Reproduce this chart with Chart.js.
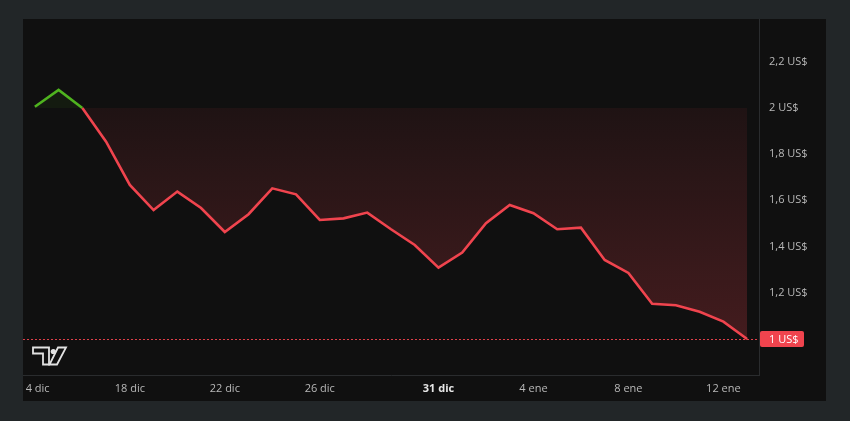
<!DOCTYPE html>
<html>
<head>
<meta charset="utf-8">
<script src="https://cdn.jsdelivr.net/npm/chart.js@4.4.1/dist/chart.umd.min.js"></script>
<style>
html, body { margin: 0; padding: 0; background: #222628; }
#panel { position: absolute; left: 23px; top: 19px; width: 803px; height: 382px; background: #101010; }
</style>
</head>
<body>
<div id="panel"><canvas id="grafico"></canvas></div>
<script>
// DATOS
const fechas = ['14 dic', '15 dic', '16 dic', '17 dic', '18 dic', '19 dic', '20 dic', '21 dic', '22 dic', '23 dic',
    '24 dic', '25 dic', '26 dic', '27 dic', '28 dic', '29 dic', '30 dic', '31 dic', '1 ene', '2 ene',
    '3 ene', '4 ene', '5 ene', '6 ene', '7 ene', '8 ene', '9 ene', '10 ene', '11 ene', '12 ene', '13 ene']
const precios = [2.005, 2.078, 2.0, 1.854, 1.667, 1.558, 1.638, 1.567, 1.463, 1.540,
    1.652, 1.626, 1.515, 1.522, 1.547, 1.475, 1.407, 1.309, 1.374, 1.501,
    1.580, 1.544, 1.475, 1.482, 1.342, 1.286, 1.152, 1.146, 1.118, 1.075, 1.0]
const indicesX = [0, 4, 8, 12, 17, 21, 25, 29]
const textosX = ['\u20024 dic', '18 dic', '22 dic', '26 dic', '31 dic', '4 ene', '8 ene', '12 ene']
const marcasY = [1.2, 1.4, 1.6, 1.8, 2.0, 2.2]
const precioBase = 2.0

const rojo = '#f0444e'
const verde = '#4fb31f'
const fuente = "'Open Sans', 'Noto Sans', sans-serif"

function formatoPrecio(v) {
    let t = v.toFixed(1).replace('.', ',')
    if (t.endsWith(',0')) t = t.slice(0, -2)
    return t + ' US$'
}

// sin relleno automático alrededor de los ejes
function sinPadding(s) {
    s.paddingTop = 0
    s.paddingBottom = 0
    s.paddingLeft = 0
    s.paddingRight = 0
}

// LÍNEA DEL ÚLTIMO PRECIO + LOGO
const extras = {
    id: 'extras',
    afterDraw(chart) {
        const ctx = chart.ctx
        const area = chart.chartArea
        const y = Math.round(chart.scales.y.getPixelForValue(precios[precios.length - 1])) + 0.5

        ctx.save()
        ctx.strokeStyle = '#e0404a'
        ctx.lineWidth = 1
        ctx.setLineDash([2, 2])
        ctx.beginPath()
        ctx.moveTo(area.left, y)
        ctx.lineTo(area.right, y)
        ctx.stroke()
        ctx.setLineDash([])

        // etiqueta
        ctx.fillStyle = rojo
        ctx.beginPath()
        ctx.roundRect(area.right + 1, y - 8.5, 44, 16, 2)
        ctx.fill()
        ctx.fillStyle = '#ffffff'
        ctx.font = '11px ' + fuente
        ctx.textBaseline = 'middle'
        ctx.textAlign = 'left'
        ctx.fillText(formatoPrecio(precios[precios.length - 1]), area.right + 10, y)

        // logo
        const ox = 10, oy = 328.5
        ctx.strokeStyle = '#e2e2e2'
        ctx.fillStyle = '#101010'
        ctx.lineWidth = 1.8
        ctx.lineJoin = 'miter'
        ctx.beginPath()
        ctx.moveTo(ox, oy)
        ctx.lineTo(ox + 16, oy)
        ctx.lineTo(ox + 16, oy + 17)
        ctx.lineTo(ox + 10, oy + 17)
        ctx.lineTo(ox + 10, oy + 6)
        ctx.lineTo(ox, oy + 6)
        ctx.closePath()
        ctx.fill()
        ctx.stroke()
        ctx.beginPath()
        ctx.moveTo(ox + 25, oy)
        ctx.lineTo(ox + 33, oy)
        ctx.lineTo(ox + 24, oy + 17)
        ctx.lineTo(ox + 16.5, oy + 17)
        ctx.closePath()
        ctx.fill()
        ctx.stroke()
        ctx.fillStyle = '#e2e2e2'
        ctx.beginPath()
        ctx.arc(ox + 20.3, oy + 4, 2.6, 0, Math.PI * 2)
        ctx.fill()
        ctx.restore()
    }
}

const configuracion = {
    type: 'line',
    data: {
        labels: fechas,
        datasets: [{
            data: precios,
            borderColor: rojo,
            borderWidth: 2.6,
            pointRadius: 0,
            tension: 0,
            segment: {
                borderColor: c => (c.p0.parsed.y >= precioBase && c.p1.parsed.y >= precioBase) ? verde : undefined
            },
            backgroundColor: c => {
                const area = c.chart.chartArea
                if (!area) return 'rgba(240, 68, 78, 0.12)'
                const ys = c.chart.scales.y
                const g = c.chart.ctx.createLinearGradient(0, ys.getPixelForValue(precioBase), 0, ys.getPixelForValue(1.0))
                g.addColorStop(0, 'rgba(240, 68, 78, 0.07)')
                g.addColorStop(1, 'rgba(240, 68, 78, 0.23)')
                return g
            },
            fill: { value: precioBase, above: 'rgba(79, 179, 31, 0.07)' }
        }]
    },
    options: {
        responsive: true,
        maintainAspectRatio: false,
        animation: false,
        layout: { padding: 0, autoPadding: false },
        plugins: {
            legend: { display: false },
            tooltip: { enabled: false }
        },
        scales: {
            x: {
                type: 'category',
                offset: true,
                grid: { display: true, color: 'transparent', drawTicks: false },
                border: { display: true, color: '#2a2c2e', width: 1 },
                afterFit: s => { s.height = 26; sinPadding(s) },
                ticks: {
                    autoSkip: false,
                    maxRotation: 0,
                    padding: 7,
                    callback: (v, i) => {
                        const k = indicesX.indexOf(i)
                        return k >= 0 ? textosX[k] : ''
                    },
                    color: c => c.index === 17 ? '#e6e6e6' : '#b8b8b8',
                    font: c => ({ family: fuente, size: 11, weight: c.index === 17 ? 'bold' : 'normal' })
                }
            },
            y: {
                type: 'linear',
                position: 'right',
                min: 0.844,
                max: 2.385,
                grid: { display: true, color: 'transparent', drawTicks: false },
                border: { display: true, color: '#2a2c2e', width: 1 },
                afterFit: s => { s.width = 67; sinPadding(s) },
                afterBuildTicks: s => { s.ticks = marcasY.map(v => ({ value: v })) },
                ticks: {
                    padding: 10,
                    color: '#b8b8b8',
                    font: { family: fuente, size: 11 },
                    callback: v => formatoPrecio(v)
                }
            }
        }
    },
    plugins: [extras]
}

const grafico = new Chart(document.getElementById('grafico').getContext('2d'), configuracion)
</script>
</body>
</html>
